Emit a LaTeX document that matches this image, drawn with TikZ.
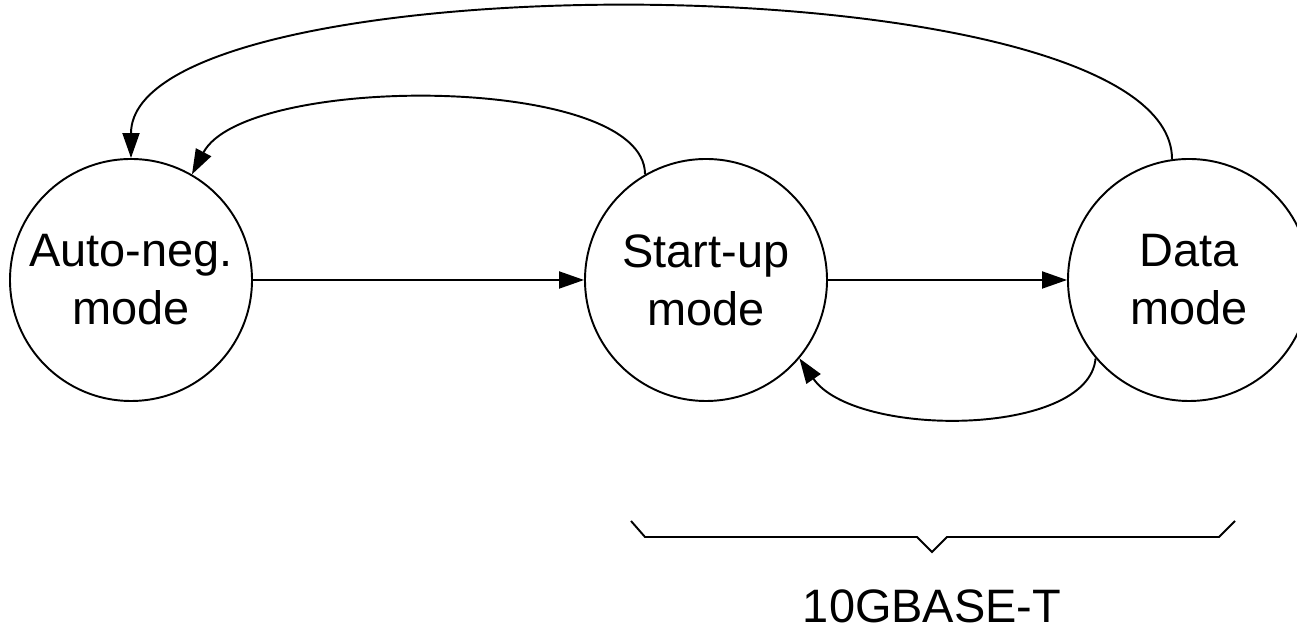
\documentclass[tikz,border=0pt]{standalone}
\usepackage{fontspec}
\setmainfont{Liberation Sans}
\usetikzlibrary{arrows.meta}
\newcommand{\modefont}{\fontsize{26.7}{33}\selectfont}
\newcommand{\drawarrow}{\draw[-{Triangle[length=0.5cm,width=0.34cm]}]}
\tikzset{
    mode/.style={draw, circle, minimum size=4.84cm, inner sep=0pt, align=center, font=\modefont},
    every picture/.style={line width=1.1pt}
}

\begin{document}
\begin{tikzpicture}
\useasboundingbox (0,0) rectangle (25.94,12.62);
\node[mode] (autoneg) at (2.62,7.02) {Auto-neg.\\mode};
    \node[mode] (startup) at (14.12,7.02) {Start-up\\mode};
    \node[mode] (data) at (23.78,7.02) {Data\\mode};
    \drawarrow (autoneg) -- (startup);
    \drawarrow (startup) -- (data);
    \drawarrow (startup.120) .. controls +(0,2.02) and +(1.06,2.02) .. (autoneg.60);
    \drawarrow (data.98) .. controls +(0,4.02) and +(0,4.02) .. (autoneg.north);
    \drawarrow (data.220) .. controls +(-0.14,-1.58) and +(1.1,-1.6) .. (startup.320);
% brace under the 10GBASE-T modes
\draw (12.62,2.20)--(12.90,1.88)--(18.34,1.88)--(18.64,1.58)--(18.94,1.88)--(24.38,1.88)--(24.70,2.20);
\node[font=\modefont, anchor=base] (phy) at (18.64,0.17) {10GBASE-T};
\end{tikzpicture}
\end{document}
